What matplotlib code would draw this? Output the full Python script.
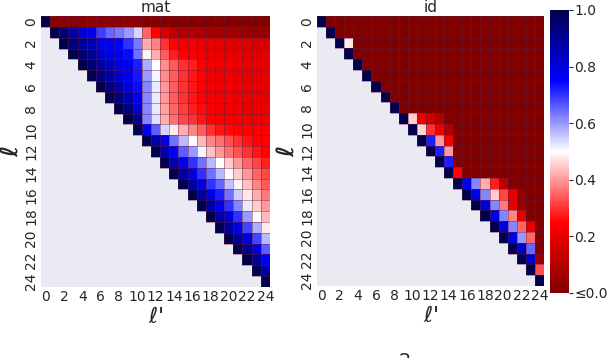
import numpy as np
import matplotlib
matplotlib.use("Agg")
import matplotlib.pyplot as plt
from matplotlib.collections import LineCollection
import seaborn as sns


N_LAYERS = 25
TICKS = list(range(0, 25, 2))

# upper triangle of each matrix, row i holds columns i..24
MAT_ROWS = [
    [1.00, 0.02, 0.02, 0.02, 0.02, 0.02, 0.02, 0.02, 0.02, 0.02, 0.02, 0.01, 0.01,
     0.01, 0.01, 0.01, 0.01, 0.01, 0.01, 0.01, 0.01, 0.01, 0.01, 0.01, 0.01],
    [1.00, 0.94, 0.87, 0.81, 0.77, 0.69, 0.65, 0.63, 0.60, 0.54, 0.35, 0.25, 0.17,
     0.12, 0.10, 0.09, 0.08, 0.07, 0.07, 0.06, 0.06, 0.05, 0.05, 0.04],
    [1.00, 0.94, 0.89, 0.86, 0.79, 0.77, 0.75, 0.70, 0.63, 0.42, 0.38, 0.30, 0.25,
     0.23, 0.22, 0.21, 0.20, 0.20, 0.19, 0.18, 0.18, 0.17, 0.17],
    [1.00, 0.95, 0.89, 0.83, 0.79, 0.77, 0.74, 0.64, 0.49, 0.42, 0.34, 0.28, 0.25,
     0.23, 0.22, 0.21, 0.21, 0.20, 0.20, 0.19, 0.19, 0.19],
    [1.00, 0.94, 0.88, 0.83, 0.79, 0.77, 0.72, 0.58, 0.50, 0.39, 0.34, 0.30, 0.28,
     0.25, 0.23, 0.22, 0.22, 0.21, 0.21, 0.20, 0.20],
    [1.00, 0.93, 0.88, 0.81, 0.78, 0.73, 0.60, 0.51, 0.39, 0.34, 0.30, 0.27, 0.25,
     0.23, 0.22, 0.22, 0.21, 0.21, 0.20, 0.20],
    [1.00, 0.93, 0.87, 0.80, 0.74, 0.62, 0.52, 0.40, 0.34, 0.30, 0.27, 0.25, 0.23,
     0.22, 0.22, 0.21, 0.21, 0.20, 0.20],
    [1.00, 0.93, 0.87, 0.77, 0.62, 0.52, 0.40, 0.34, 0.30, 0.27, 0.25, 0.23, 0.22,
     0.22, 0.21, 0.21, 0.20, 0.20],
    [1.00, 0.93, 0.82, 0.62, 0.52, 0.41, 0.35, 0.31, 0.28, 0.26, 0.24, 0.23, 0.22,
     0.22, 0.21, 0.21, 0.21],
    [1.00, 0.90, 0.62, 0.53, 0.42, 0.36, 0.32, 0.30, 0.27, 0.25, 0.24, 0.24, 0.23,
     0.23, 0.22, 0.22],
    [1.00, 0.78, 0.66, 0.54, 0.48, 0.42, 0.38, 0.34, 0.30, 0.27, 0.26, 0.25, 0.25,
     0.24, 0.24],
    [1.00, 0.87, 0.79, 0.64, 0.57, 0.50, 0.43, 0.38, 0.36, 0.33, 0.30, 0.27, 0.25, 0.24],
    [1.00, 0.86, 0.77, 0.66, 0.60, 0.51, 0.44, 0.40, 0.36, 0.33, 0.30, 0.27, 0.25],
    [1.00, 0.86, 0.78, 0.70, 0.64, 0.57, 0.50, 0.45, 0.40, 0.35, 0.32, 0.28],
    [1.00, 0.88, 0.80, 0.70, 0.64, 0.57, 0.50, 0.45, 0.40, 0.35, 0.32],
    [1.00, 0.88, 0.80, 0.70, 0.65, 0.56, 0.49, 0.44, 0.38, 0.34],
    [1.00, 0.88, 0.80, 0.72, 0.64, 0.55, 0.48, 0.42, 0.37],
    [1.00, 0.88, 0.78, 0.70, 0.62, 0.52, 0.45, 0.40],
    [1.00, 0.88, 0.80, 0.70, 0.60, 0.50, 0.43],
    [1.00, 0.88, 0.80, 0.68, 0.58, 0.48],
    [1.00, 0.90, 0.80, 0.68, 0.57],
    [1.00, 0.90, 0.80, 0.66],
    [1.00, 0.90, 0.78],
    [1.00, 0.88],
    [1.00],
]

ID_ROWS = [
    [1.0, 0, 0, 0, 0, 0, 0, 0, 0, 0, 0, 0, 0, 0, 0, 0, 0, 0, 0, 0, 0, 0, 0, 0, 0],
    [1.0, 0, 0, 0, 0, 0, 0, 0, 0, 0, 0, 0, 0, 0, 0, 0, 0, 0, 0, 0, 0, 0, 0, 0],
    [1.0, 0.48, 0, 0, 0, 0, 0, 0, 0, 0, 0, 0, 0, 0, 0, 0, 0, 0, 0, 0, 0, 0, 0],
    [1.0, 0, 0, 0, 0, 0, 0, 0, 0, 0, 0, 0, 0, 0, 0, 0, 0, 0, 0, 0, 0, 0],
    [1.0, 0, 0, 0, 0, 0, 0, 0, 0, 0, 0, 0, 0, 0, 0, 0, 0, 0, 0, 0, 0],
    [1.0, 0, 0, 0, 0, 0, 0, 0, 0, 0, 0, 0, 0, 0, 0, 0, 0, 0, 0, 0],
    [1.0, 0, 0, 0, 0, 0, 0, 0, 0, 0, 0, 0, 0, 0, 0, 0, 0, 0, 0],
    [1.0, 0, 0, 0, 0, 0, 0, 0, 0, 0, 0, 0, 0, 0, 0, 0, 0, 0],
    [1.0, 0, 0, 0, 0, 0, 0, 0, 0, 0, 0, 0, 0, 0, 0, 0, 0],
    [1.0, 0.45, 0.22, 0.15, 0.10, 0, 0, 0, 0, 0, 0, 0, 0, 0, 0, 0],
    [1.0, 0.46, 0.30, 0.22, 0.10, 0, 0, 0, 0, 0, 0, 0, 0, 0, 0],
    [1.0, 0.72, 0.40, 0.23, 0, 0, 0, 0, 0, 0, 0, 0, 0, 0],
    [1.0, 0.72, 0.40, 0, 0, 0, 0, 0, 0, 0, 0, 0, 0],
    [1.0, 0.72, 0, 0, 0, 0, 0, 0, 0, 0, 0, 0],
    [1.0, 0.25, 0, 0, 0, 0, 0, 0, 0, 0, 0],
    [1.0, 0.78, 0.62, 0.42, 0.28, 0.12, 0, 0, 0, 0],
    [1.0, 0.78, 0.62, 0.45, 0.32, 0.20, 0.05, 0, 0],
    [1.0, 0.80, 0.62, 0.37, 0.20, 0.05, 0, 0],
    [1.0, 0.80, 0.62, 0.38, 0.20, 0, 0],
    [1.0, 0.80, 0.62, 0.35, 0.20, 0],
    [1.0, 0.80, 0.60, 0.35, 0],
    [1.0, 0.82, 0.65, 0],
    [1.0, 0.82, 0.05],
    [1.0, 0.33],
    [1.0],
]

TITLES = ["mat", "id"]
CBAR_LABELS = ["≤0.0", "0.2", "0.4", "0.6", "0.8", "1.0"]


def to_matrix(rows):
    m = np.full((N_LAYERS, N_LAYERS), np.nan)
    for i, row in enumerate(rows):
        m[i, i:i + len(row)] = row
    return m


def cell_edges(n):
    # grid lines only around the drawn (upper triangle) cells
    segs = []
    for k in range(n + 1):
        segs.append([(max(k - 1, 0), k), (n, k)])
        segs.append([(k, 0), (k, min(k + 1, n))])
    return segs


def main():
    sns.set_style("darkgrid")
    plt.rcParams["font.family"] = ["DejaVu Sans"]
    text_col = ".15"

    fig = plt.figure(figsize=(6.08, 3.58), dpi=100)
    ax1 = fig.add_axes([0.0674, 0.1983, 0.3766, 0.757])
    ax2 = fig.add_axes([0.5214, 0.2011, 0.3734, 0.754])
    cax = fig.add_axes([0.9046, 0.1816, 0.0313, 0.7905])

    edge = (0.38, 0.12, 0.25, 0.5)
    for k, (ax, rows) in enumerate([(ax1, MAT_ROWS), (ax2, ID_ROWS)]):
        m = to_matrix(rows)
        sns.heatmap(m, mask=np.isnan(m), ax=ax, cmap="seismic_r", vmin=0, vmax=1,
                    linewidths=0, cbar=(k == 1),
                    cbar_ax=cax if k == 1 else None)
        ax.grid(False)
        ax.add_collection(LineCollection(cell_edges(N_LAYERS), colors=[edge],
                                         linewidths=0.6))
        ax.set_xticks(np.array(TICKS) + 0.5)
        ax.set_xticklabels([str(t) for t in TICKS], rotation=0, fontsize=10,
                           color=text_col)
        ax.set_yticks(np.array(TICKS) + 0.5)
        ax.set_yticklabels([str(t) for t in TICKS], rotation=90, va="center",
                           fontsize=10, color=text_col)
        ax.tick_params(length=0, pad=2)
        ax.set_title(TITLES[k], fontsize=11, color=text_col, pad=3)
        ax.set_xlabel(r"$\ell$'", fontsize=16, color=text_col, labelpad=2)
        ax.set_ylabel(r"$\boldsymbol{\ell}$", fontsize=17, color=text_col)
        ax.yaxis.set_label_coords(-0.08, 0.5)
        ax.set_facecolor("#EAEAF2")

    cax.set_yticks([0.0, 0.2, 0.4, 0.6, 0.8, 1.0])
    cax.set_yticklabels(CBAR_LABELS, fontsize=10, color=text_col)
    cax.tick_params(length=3, width=0.8, color=text_col, pad=1)

    fig.text(405 / 608, 6 / 358, "2", ha="center", va="top", fontsize=14,
             color=text_col)

    fig.savefig("out.png", dpi=100)


if __name__ == "__main__":
    main()
